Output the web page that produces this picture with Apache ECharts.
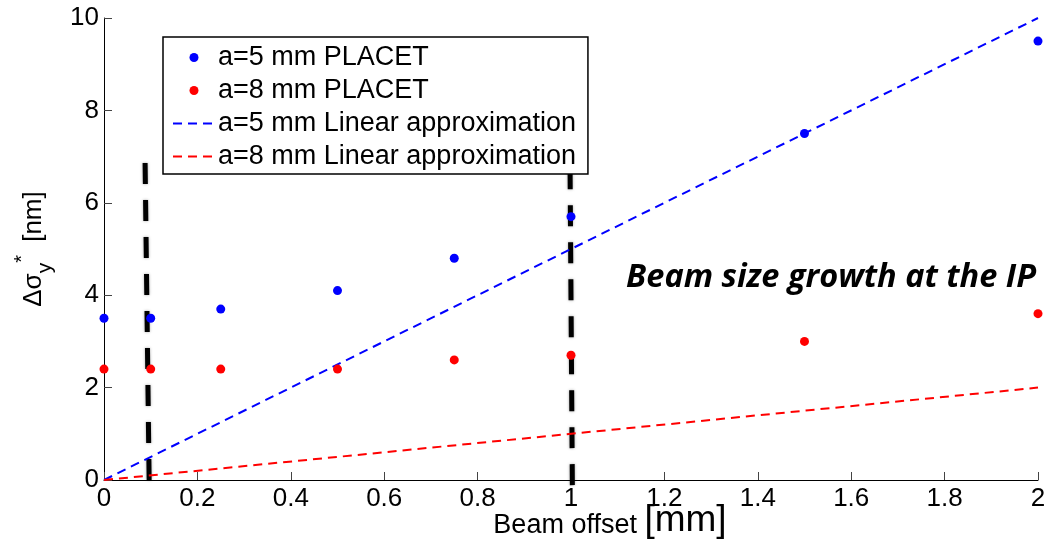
<!DOCTYPE html>
<html>
<head>
<meta charset="utf-8">
<script src="https://cdn.jsdelivr.net/npm/echarts@6/dist/echarts.min.js"></script>
<style>
html,body{margin:0;padding:0;background:#fff;}
#chart{width:1060px;height:540px;}
</style>
</head>
<body>
<div id="chart"></div>
<script>
// Beam offset [mm]
const offsets = [0, 0.1, 0.25, 0.5, 0.75, 1, 1.5, 2];
// Δσy* [nm] from PLACET
const placetA5 = [3.5, 3.5, 3.7, 4.1, 4.8, 5.7, 7.5, 9.5];
const placetA8 = [2.4, 2.4, 2.4, 2.4, 2.6, 2.7, 3.0, 3.6];
// Linear approximation end points [offset, value]
const linearA5 = [[0, 0], [2, 10]];
const linearA8 = [[0, 0], [2, 2]];
// Hand drawn vertical markers [offset, value]
const markerLow = [[0.088, 6.86], [0.097, -0.26]];
const markerHigh = [[0.998, 6.75], [1.003, -0.26]];
const seriesNames = ['a=5 mm PLACET', 'a=8 mm PLACET', 'a=5 mm Linear approximation', 'a=8 mm Linear approximation'];
const annotation = 'Beam size growth at the IP';

const font = 'Liberation Sans, Arial, Helvetica, sans-serif';
const chart = echarts.init(document.getElementById('chart'), null, {renderer: 'canvas'});

function pairs(xs, ys) { return xs.map((x, i) => [x, ys[i]]); }

const option = {
  animation: false,
  backgroundColor: '#fff',
  grid: {left: 104, right: 22, top: 18, bottom: 60, containLabel: false, outerBoundsMode: 'none'},
  xAxis: {
    type: 'value', min: 0, max: 2, interval: 0.2,
    name: '{a|Beam offset }{b|[mm]}',
    nameLocation: 'middle', nameGap: 27, nameMoveOverlap: false,
    nameTextStyle: {verticalAlign: 'top', rich: {
      a: {fontSize: 27, fontFamily: font, color: '#000', lineHeight: 32, verticalAlign: 'bottom', padding: [0, 0, 0, 78]},
      b: {fontSize: 37, fontFamily: font, color: '#000', lineHeight: 32, verticalAlign: 'bottom'}
    }},
    axisLine: {show: true, lineStyle: {color: '#000', width: 1}},
    axisTick: {show: true, inside: true, length: 8, lineStyle: {color: '#444', width: 1}},
    axisLabel: {fontSize: 26, fontFamily: font, color: '#000', margin: 6},
    splitLine: {show: false}
  },
  yAxis: {
    type: 'value', min: 0, max: 10, interval: 2,
    name: '{m|Δσ}{sub|y}{sup|*}{m| [nm]}',
    nameLocation: 'middle', nameGap: 48, nameRotate: 90, nameMoveOverlap: false,
    nameTextStyle: {rich: {
      m: {fontSize: 26, fontFamily: font, color: '#000', lineHeight: 44, verticalAlign: 'middle'},
      sub: {fontSize: 21, fontFamily: font, color: '#000', verticalAlign: 'bottom', lineHeight: 21},
      sup: {fontSize: 20, fontFamily: font, color: '#000', verticalAlign: 'top', lineHeight: 20, padding: [0, 6, 0, 0]}
    }},
    axisLine: {show: true, lineStyle: {color: '#000', width: 1}},
    axisTick: {show: true, inside: true, length: 8, lineStyle: {color: '#444', width: 1}},
    axisLabel: {fontSize: 26, fontFamily: font, color: '#000', margin: 5},
    splitLine: {show: false}
  },
  legend: {
    orient: 'vertical', left: 163, top: 37,
    data: [
      {name: seriesNames[0]},
      {name: seriesNames[1]},
      {name: seriesNames[2], itemStyle: {opacity: 0}},
      {name: seriesNames[3], itemStyle: {opacity: 0}}
    ],
    backgroundColor: '#fff',
    borderColor: '#000', borderWidth: 1.5, borderRadius: 0,
    padding: [7, 12, 4, 9],
    itemWidth: 42, itemHeight: 9, itemGap: 6,
    textStyle: {fontSize: 27, fontFamily: font, color: '#000', lineHeight: 27, padding: [0, 0, 0, -2]}
  },
  series: [
    {
      name: 'marker-low', type: 'line', data: markerLow, symbol: 'none', clip: false, silent: true, z: 1,
      lineStyle: {color: '#000', width: 5, type: [21, 16], shadowBlur: 3, shadowColor: 'rgba(0,0,0,0.35)'}
    },
    {
      name: 'marker-high', type: 'line', data: markerHigh, symbol: 'none', clip: false, silent: true, z: 1,
      lineStyle: {color: '#000', width: 5, type: [21, 16], shadowBlur: 3, shadowColor: 'rgba(0,0,0,0.35)'}
    },
    {
      name: seriesNames[0], type: 'scatter', data: pairs(offsets, placetA5),
      symbol: 'circle', symbolSize: 9, itemStyle: {color: '#0000ff', opacity: 1}, clip: false, z: 3
    },
    {
      name: seriesNames[1], type: 'scatter', data: pairs(offsets, placetA8),
      symbol: 'circle', symbolSize: 9, itemStyle: {color: '#ff0000', opacity: 1}, clip: false, z: 3
    },
    {
      name: seriesNames[2], type: 'line', data: linearA5, symbol: 'none', showSymbol: false,
      itemStyle: {color: '#0000ff'},
      lineStyle: {color: '#0000ff', width: 2, type: [9, 6]}, z: 2
    },
    {
      name: seriesNames[3], type: 'line', data: linearA8, symbol: 'none', showSymbol: false,
      itemStyle: {color: '#ff0000'},
      lineStyle: {color: '#ff0000', width: 2, type: [9, 6]}, z: 2
    }
  ],
  graphic: [{
    type: 'text', x: 1036, y: 278,
    style: {
      text: annotation, fill: '#000', align: 'right', verticalAlign: 'middle',
      font: 'italic bold 32.5px "Open Sans", Lato, sans-serif'
    }
  }]
};
chart.setOption(option);
</script>
</body>
</html>
